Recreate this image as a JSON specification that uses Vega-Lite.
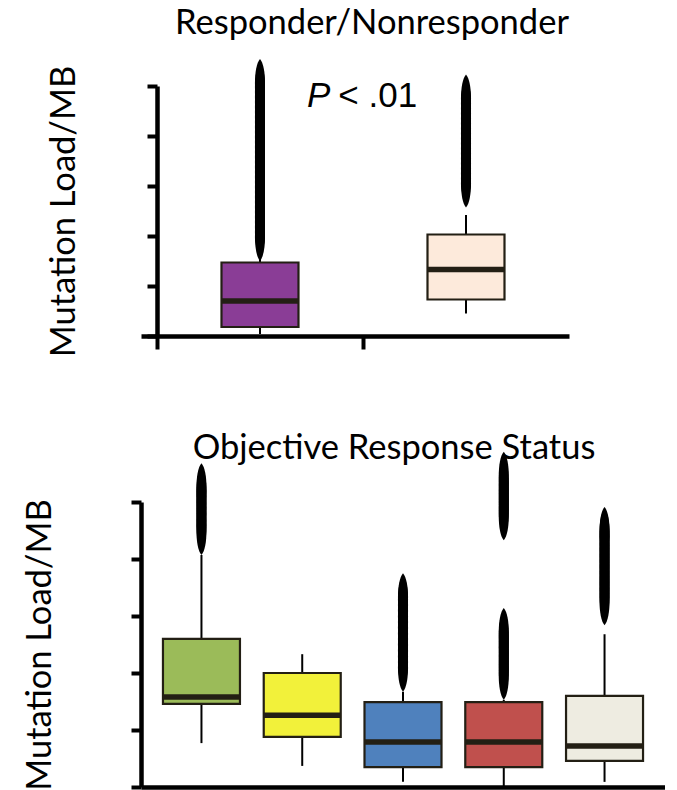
{
  "$schema": "https://vega.github.io/schema/vega-lite/v6.json",
  "padding": {"left": 21, "top": 5, "right": 0, "bottom": 0},
  "background": "white",
  "config": {
    "view": {"stroke": null},
    "font": "Lato",
    "axis": {
      "labels": false,
      "grid": false,
      "domainColor": "black",
      "domainWidth": 4.5,
      "tickColor": "black",
      "tickWidth": 4,
      "titleFont": "Lato",
      "titleFontSize": 34.5,
      "titleFontWeight": "normal",
      "titleColor": "black"
    },
    "title": {"font": "Lato", "fontSize": 34.5, "fontWeight": "normal", "color": "black", "baseline": "alphabetic", "anchor": "middle", "frame": "group"}
  },
  "datasets": {
    "stats1": [
      {"group": "Responder", "lower": 0.04, "q1": 0.18, "median": 0.70, "q3": 1.47, "upper": 1.55},
      {"group": "Nonresponder", "lower": 0.45, "q1": 0.73, "median": 1.33, "q3": 2.03, "upper": 2.42}
    ],
    "out1": [
      {"group": "Responder", "value": 1.98}, {"group": "Responder", "value": 2.08}, {"group": "Responder", "value": 2.18}, {"group": "Responder", "value": 2.28},
      {"group": "Responder", "value": 2.38}, {"group": "Responder", "value": 2.48}, {"group": "Responder", "value": 2.58}, {"group": "Responder", "value": 2.68},
      {"group": "Responder", "value": 2.78}, {"group": "Responder", "value": 2.88}, {"group": "Responder", "value": 2.98}, {"group": "Responder", "value": 3.08},
      {"group": "Responder", "value": 3.18}, {"group": "Responder", "value": 3.28}, {"group": "Responder", "value": 3.38}, {"group": "Responder", "value": 3.48},
      {"group": "Responder", "value": 3.58}, {"group": "Responder", "value": 3.68}, {"group": "Responder", "value": 3.78}, {"group": "Responder", "value": 3.88},
      {"group": "Responder", "value": 3.98}, {"group": "Responder", "value": 4.08}, {"group": "Responder", "value": 4.18}, {"group": "Responder", "value": 4.28},
      {"group": "Responder", "value": 4.38}, {"group": "Responder", "value": 4.48}, {"group": "Responder", "value": 4.58}, {"group": "Responder", "value": 4.68},
      {"group": "Responder", "value": 4.78}, {"group": "Responder", "value": 4.88}, {"group": "Responder", "value": 4.98}, {"group": "Responder", "value": 5.06},
      {"group": "Nonresponder", "value": 3.05}, {"group": "Nonresponder", "value": 3.15}, {"group": "Nonresponder", "value": 3.25}, {"group": "Nonresponder", "value": 3.35},
      {"group": "Nonresponder", "value": 3.45}, {"group": "Nonresponder", "value": 3.55}, {"group": "Nonresponder", "value": 3.65}, {"group": "Nonresponder", "value": 3.75},
      {"group": "Nonresponder", "value": 3.85}, {"group": "Nonresponder", "value": 3.95}, {"group": "Nonresponder", "value": 4.05}, {"group": "Nonresponder", "value": 4.15},
      {"group": "Nonresponder", "value": 4.25}, {"group": "Nonresponder", "value": 4.35}, {"group": "Nonresponder", "value": 4.45}, {"group": "Nonresponder", "value": 4.55},
      {"group": "Nonresponder", "value": 4.65}, {"group": "Nonresponder", "value": 4.75}
    ],
    "stats2": [
      {"group": "CR", "lower": 0.77, "q1": 1.46, "median": 1.58, "q3": 2.60, "upper": 4.07},
      {"group": "PR", "lower": 0.37, "q1": 0.88, "median": 1.26, "q3": 2.00, "upper": 2.33},
      {"group": "SD", "lower": 0.09, "q1": 0.35, "median": 0.79, "q3": 1.49, "upper": 1.67},
      {"group": "PD", "lower": 0.0, "q1": 0.35, "median": 0.79, "q3": 1.49, "upper": 1.53},
      {"group": "NE", "lower": 0.09, "q1": 0.46, "median": 0.72, "q3": 1.60, "upper": 2.68}
    ],
    "out2": [
      {"group": "CR", "value": 4.49}, {"group": "CR", "value": 4.59}, {"group": "CR", "value": 4.69}, {"group": "CR", "value": 4.79}, {"group": "CR", "value": 4.89},
      {"group": "CR", "value": 4.99}, {"group": "CR", "value": 5.09}, {"group": "CR", "value": 5.19}, {"group": "CR", "value": 5.26},
      {"group": "SD", "value": 2.09}, {"group": "SD", "value": 2.19}, {"group": "SD", "value": 2.29}, {"group": "SD", "value": 2.39}, {"group": "SD", "value": 2.49},
      {"group": "SD", "value": 2.59}, {"group": "SD", "value": 2.69}, {"group": "SD", "value": 2.79}, {"group": "SD", "value": 2.89}, {"group": "SD", "value": 2.99},
      {"group": "SD", "value": 3.09}, {"group": "SD", "value": 3.19}, {"group": "SD", "value": 3.29}, {"group": "SD", "value": 3.33},
      {"group": "PD", "value": 1.95}, {"group": "PD", "value": 2.05}, {"group": "PD", "value": 2.15}, {"group": "PD", "value": 2.25}, {"group": "PD", "value": 2.35},
      {"group": "PD", "value": 2.45}, {"group": "PD", "value": 2.55}, {"group": "PD", "value": 2.65}, {"group": "PD", "value": 2.72},
      {"group": "PD", "value": 4.75}, {"group": "PD", "value": 4.85}, {"group": "PD", "value": 4.95}, {"group": "PD", "value": 5.05}, {"group": "PD", "value": 5.15},
      {"group": "PD", "value": 5.25}, {"group": "PD", "value": 5.35}, {"group": "PD", "value": 5.46},
      {"group": "NE", "value": 3.26}, {"group": "NE", "value": 3.36}, {"group": "NE", "value": 3.46}, {"group": "NE", "value": 3.56}, {"group": "NE", "value": 3.66},
      {"group": "NE", "value": 3.76}, {"group": "NE", "value": 3.86}, {"group": "NE", "value": 3.96}, {"group": "NE", "value": 4.06}, {"group": "NE", "value": 4.16},
      {"group": "NE", "value": 4.26}, {"group": "NE", "value": 4.36}, {"group": "NE", "value": 4.46}, {"group": "NE", "value": 4.49}
    ]
  },
  "align": "all",
  "spacing": 56,
  "vconcat": [
    {
      "width": 428,
      "height": 250,
      "title": {"text": "Responder/Nonresponder", "offset": 18, "dx": 17},
      "encoding": {
        "x": {
          "field": "group", "type": "nominal", "sort": ["Responder", "Nonresponder"],
          "scale": {"paddingInner": 0, "paddingOuter": 0.0388, "align": 1},
          "axis": {"title": null, "tickOffset": -103, "tickSize": 13}
        },
        "y": {"type": "quantitative", "scale": {"domain": [0, 5], "nice": false},
              "axis": {"values": [0, 1, 2, 3, 4, 5], "title": "Mutation Load/MB", "tickSize": 10, "offset": -16, "titlePadding": 64}}
      },
      "layer": [
        {
          "data": {"name": "stats1"},
          "mark": {"type": "rule", "color": "black", "strokeWidth": 2},
          "encoding": {"y": {"field": "lower", "type": "quantitative", "title": "Mutation Load/MB"}, "y2": {"field": "upper"}}
        },
        {
          "data": {"name": "stats1"},
          "mark": {"type": "bar", "size": 77, "stroke": "#231F14", "strokeWidth": 2.2},
          "encoding": {
            "y": {"field": "q1", "type": "quantitative", "title": "Mutation Load/MB"},
            "y2": {"field": "q3"},
            "color": {"field": "group", "type": "nominal", "legend": null,
                      "scale": {"domain": ["Responder", "Nonresponder"], "range": ["#8A3D96", "#FDEADB"]}}
          }
        },
        {
          "data": {"name": "stats1"},
          "mark": {"type": "tick", "size": 77, "thickness": 5.5, "color": "#231F14", "opacity": 1},
          "encoding": {"y": {"field": "median", "type": "quantitative", "title": "Mutation Load/MB"}}
        },
        {
          "data": {"name": "out1"},
          "mark": {"type": "point", "shape": "M0,-1C0.28,-0.7 0.28,0.7 0,1C-0.28,0.7 -0.28,-0.7 0,-1Z", "size": 2304, "filled": true, "color": "black", "opacity": 1},
          "encoding": {"y": {"field": "value", "type": "quantitative", "title": "Mutation Load/MB"}}
        },
        {
          "data": {"values": [{"group": "Responder", "y": 4.58, "label": "P"}]},
          "mark": {"type": "text", "font": "Liberation Sans", "fontSize": 35, "fontStyle": "italic", "align": "left", "baseline": "alphabetic", "color": "black"},
          "encoding": {
            "x": {"field": "group", "type": "nominal", "bandPosition": 0.728},
            "y": {"field": "y", "type": "quantitative", "title": "Mutation Load/MB"},
            "text": {"field": "label"}
          }
        },
        {
          "data": {"values": [{"group": "Responder", "y": 4.58, "label": "< .01"}]},
          "mark": {"type": "text", "font": "Liberation Sans", "fontSize": 35, "align": "left", "baseline": "alphabetic", "color": "black"},
          "encoding": {
            "x": {"field": "group", "type": "nominal", "bandPosition": 0.88},
            "y": {"field": "y", "type": "quantitative", "title": "Mutation Load/MB"},
            "text": {"field": "label"}
          }
        }
      ]
    },
    {
      "width": 524,
      "height": 285,
      "title": {"text": "Objective Response Status", "offset": -15, "dx": -9},
      "encoding": {
        "x": {
          "field": "group", "type": "nominal", "sort": ["CR", "PR", "SD", "PD", "NE"],
          "scale": {"paddingInner": 0, "paddingOuter": 0.1},
          "axis": {"title": null, "ticks": false}
        },
        "y": {"type": "quantitative", "scale": {"domain": [0, 5], "nice": false},
              "axis": {"values": [0, 1, 2, 3, 4, 5], "title": "Mutation Load/MB", "tickSize": 10, "titlePadding": 72}}
      },
      "layer": [
        {
          "data": {"name": "stats2"},
          "mark": {"type": "rule", "color": "black", "strokeWidth": 2},
          "encoding": {"y": {"field": "lower", "type": "quantitative", "title": "Mutation Load/MB"}, "y2": {"field": "upper"}}
        },
        {
          "data": {"name": "stats2"},
          "mark": {"type": "bar", "size": 77, "stroke": "#231F14", "strokeWidth": 2.2},
          "encoding": {
            "y": {"field": "q1", "type": "quantitative", "title": "Mutation Load/MB"},
            "y2": {"field": "q3"},
            "color": {"field": "group", "type": "nominal", "legend": null,
                      "scale": {"domain": ["CR", "PR", "SD", "PD", "NE"], "range": ["#9BBB59", "#F2F13A", "#4F81BD", "#C0504D", "#EEECE1"]}}
          }
        },
        {
          "data": {"name": "stats2"},
          "mark": {"type": "tick", "size": 77, "thickness": 5.5, "color": "#231F14", "opacity": 1},
          "encoding": {"y": {"field": "median", "type": "quantitative", "title": "Mutation Load/MB"}}
        },
        {
          "data": {"name": "out2"},
          "mark": {"type": "point", "shape": "M0,-1C0.28,-0.7 0.28,0.7 0,1C-0.28,0.7 -0.28,-0.7 0,-1Z", "size": 2304, "filled": true, "color": "black", "opacity": 1},
          "encoding": {"y": {"field": "value", "type": "quantitative", "title": "Mutation Load/MB"}}
        }
      ]
    }
  ],
  "resolve": {"scale": {"color": "independent", "x": "independent", "y": "independent"}}
}
